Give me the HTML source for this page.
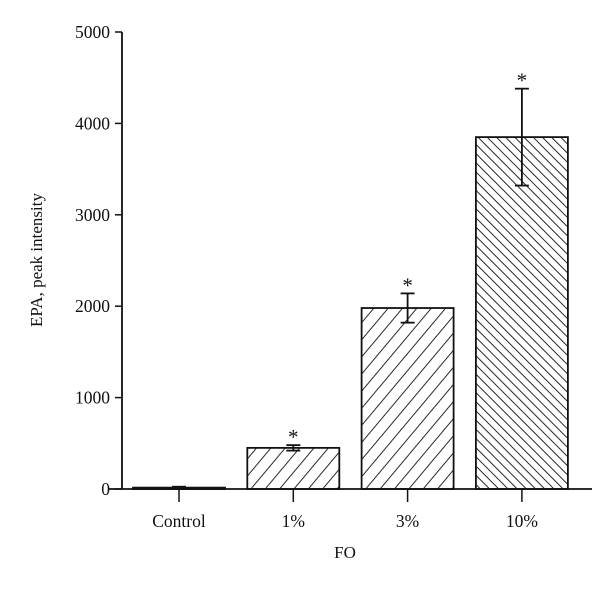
<!DOCTYPE html>
<html><head><meta charset="utf-8"><style>
body{margin:0;background:#fff}
text{font-family:"Liberation Serif",serif;fill:#111}
</style></head><body>
<svg width="600" height="587" xmlns="http://www.w3.org/2000/svg">
<defs>
<pattern id="hf" width="11" height="11" patternUnits="userSpaceOnUse" patternTransform="rotate(40)"><line x1="0" y1="0" x2="0" y2="11" stroke="#111" stroke-width="1.8"/></pattern>
<pattern id="hb" width="6.5" height="6.5" patternUnits="userSpaceOnUse" patternTransform="rotate(-45)"><line x1="0" y1="0" x2="0" y2="6.5" stroke="#111" stroke-width="1.8"/></pattern>
</defs>
<g id="plot"></g>
<text x="42" y="260" transform="rotate(-90 42 260)" text-anchor="middle" font-size="17">EPA, peak intensity</text>
<text x="345" y="558" text-anchor="middle" font-size="17">FO</text>
</svg>
<script>
const categories=["Control","1%","3%","10%"];
const values=[15,450,1980,3850];
const errLow=[0,420,1820,3320];
const errHigh=[25,480,2140,4380];
const sig=[false,true,true,true];
const yTicks=[0,1000,2000,3000,4000,5000];
const fills=["none","url(#hf)","url(#hf)","url(#hb)"];
const NS="http://www.w3.org/2000/svg";
const g=document.getElementById('plot');
const y=v=>489-v*(457/5000);
const xc=i=>179+i*114.3;
const bw=92;
function mk(t,a){const e=document.createElementNS(NS,t);for(const k in a)e.setAttribute(k,a[k]);g.appendChild(e);return e;}
let e;
e=mk('line',{x1:122,y1:y(5000),x2:122,y2:489,stroke:'#111','stroke-width':1.8});


e=mk('line',{x1:108,y1:489,x2:592,y2:489,stroke:'#111','stroke-width':1.8});


yTicks.forEach(v=>{
 e=mk('line',{x1:115,y1:y(v),x2:122,y2:y(v),stroke:'#111','stroke-width':1.5});
 
 
 e=mk('text',{x:110,y:y(v)+6,'text-anchor':'end','font-size':17.5});e.textContent=v;
 
 
});
categories.forEach((c,i)=>{
 const x=xc(i);
 e=mk('rect',{x:x-bw/2,y:y(values[i]),width:bw,height:489-y(values[i]),fill:fills[i],stroke:'#111','stroke-width':1.8});
 
 
 e=mk('line',{x1:x,y1:y(errLow[i]),x2:x,y2:y(errHigh[i]),stroke:'#111','stroke-width':1.8});
 
 
 [errLow[i],errHigh[i]].forEach(v=>{e=mk('line',{x1:x-7,y1:y(v),x2:x+7,y2:y(v),stroke:'#111','stroke-width':1.8});
 
 });
 if(sig[i]){e=mk('text',{x:x,y:y(errHigh[i])-1,'text-anchor':'middle','font-size':21});e.textContent='*';
 
 }
 e=mk('line',{x1:x,y1:489,x2:x,y2:502,stroke:'#111','stroke-width':1.5});
 
 
 e=mk('text',{x:x,y:527,'text-anchor':'middle','font-size':17.5});e.textContent=c;
 
 
});
</script>
</body></html>
